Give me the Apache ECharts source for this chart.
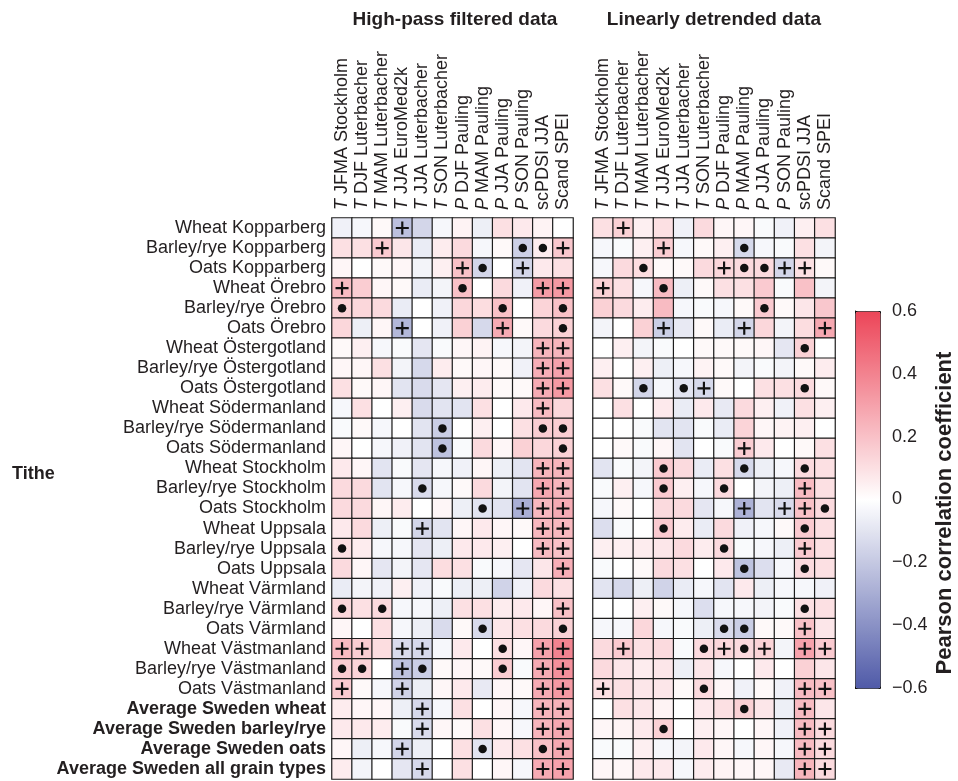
<!DOCTYPE html>
<html><head><meta charset="utf-8">
<script src="https://cdn.jsdelivr.net/npm/echarts@6/dist/echarts.min.js"></script>
<style>html,body{margin:0;padding:0;background:#fff}#c{width:958px;height:781px}</style>
</head><body><div id="c"></div><script>
const columns = ['T JFMA Stockholm','T DJF Luterbacher','T MAM Luterbacher','T JJA EuroMed2k','T JJA Luterbacher','T SON Luterbacher','P DJF Pauling','P MAM Pauling','P JJA Pauling','P SON Pauling','scPDSI JJA','Scand SPEI'];
const rows = ['Wheat Kopparberg','Barley/rye Kopparberg','Oats Kopparberg','Wheat Örebro','Barley/rye Örebro','Oats Örebro','Wheat Östergotland','Barley/rye Östergotland','Oats Östergotland','Wheat Södermanland','Barley/rye Södermanland','Oats Södermanland','Wheat Stockholm','Barley/rye Stockholm','Oats Stockholm','Wheat Uppsala','Barley/rye Uppsala','Oats Uppsala','Wheat Värmland','Barley/rye Värmland','Oats Värmland','Wheat Västmanland','Barley/rye Västmanland','Oats Västmanland','Average Sweden wheat','Average Sweden barley/rye','Average Sweden oats','Average Sweden all grain types'];
const boldRows = ['Average Sweden wheat','Average Sweden barley/rye','Average Sweden oats','Average Sweden all grain types'];
const colorTicks = [-0.6,-0.4,-0.2,0,0.2,0.4,0.6];

// High-pass filtered data: correlation values (rows x columns)
const hpVals = [
[-0.05,-0.03,0.02,-0.23,-0.15,-0.03,0.04,-0.06,0.10,0.07,0.04,0.00],
[0.10,0.10,0.17,0.08,-0.07,0.06,0.12,-0.03,0.02,-0.17,0.06,0.18],
[0.03,0.00,0.02,0.03,-0.04,0.05,0.20,-0.15,0.00,-0.15,0.07,0.10],
[0.22,0.16,0.03,0.02,-0.07,-0.04,0.20,0.00,0.12,-0.05,0.32,0.33],
[0.15,0.13,0.12,-0.07,0.00,-0.05,0.13,0.11,0.20,0.00,0.14,0.20],
[0.13,-0.06,0.03,-0.26,0.00,-0.05,0.15,-0.14,0.27,0.02,0.12,0.15],
[0.02,0.05,-0.03,-0.02,-0.09,-0.02,0.03,0.04,-0.03,-0.04,0.24,0.24],
[0.03,0.03,0.10,-0.04,-0.14,0.06,0.02,0.03,0.02,-0.05,0.26,0.30],
[0.10,0.02,0.03,-0.10,-0.13,-0.09,0.05,0.06,0.02,0.02,0.27,0.33],
[-0.03,0.10,0.00,0.05,-0.13,-0.10,-0.10,0.10,0.00,0.07,0.22,0.13],
[-0.02,0.02,-0.03,0.00,-0.10,-0.18,0.00,0.05,0.00,0.10,0.16,0.16],
[0.03,0.00,-0.03,-0.05,-0.10,-0.22,-0.02,0.12,0.03,0.15,0.13,0.15],
[0.07,0.03,-0.10,-0.02,-0.09,-0.03,-0.05,0.03,-0.06,-0.10,0.24,0.24],
[0.12,0.12,-0.10,-0.03,-0.13,-0.03,0.02,0.12,-0.04,-0.10,0.28,0.24],
[0.12,0.12,0.03,0.06,0.00,0.03,-0.06,-0.10,-0.10,-0.29,0.23,0.27],
[0.07,0.12,-0.06,-0.02,-0.15,-0.10,0.03,0.07,0.03,0.02,0.23,0.23],
[0.10,0.06,-0.03,-0.03,-0.09,-0.06,0.07,0.07,0.05,0.00,0.22,0.20],
[0.12,0.03,-0.09,-0.04,-0.09,0.11,0.10,-0.02,-0.03,-0.09,0.08,0.26],
[-0.07,-0.04,-0.05,0.05,-0.05,-0.02,-0.06,-0.06,-0.16,-0.05,0.12,0.10],
[0.13,0.10,0.12,-0.03,-0.03,-0.06,0.10,0.10,0.06,0.07,0.03,0.20],
[0.03,0.00,0.10,-0.03,-0.06,-0.13,0.02,-0.13,0.08,0.10,0.12,0.15],
[0.22,0.16,0.11,-0.13,-0.14,-0.03,0.07,0.00,0.10,0.03,0.30,0.40],
[0.16,0.14,0.00,-0.22,-0.18,0.02,0.03,0.02,0.16,-0.02,0.27,0.36],
[0.17,0.02,-0.03,-0.16,-0.06,0.03,0.07,-0.08,0.03,0.02,0.27,0.33],
[0.06,0.03,0.03,-0.06,-0.14,-0.03,0.10,0.00,0.03,-0.03,0.24,0.25],
[0.07,0.07,0.06,-0.02,-0.13,0.03,0.02,0.10,0.03,-0.03,0.24,0.28],
[0.03,-0.06,-0.03,-0.15,-0.06,0.00,0.10,-0.10,0.07,0.10,0.20,0.28],
[0.06,-0.04,0.00,-0.09,-0.14,0.00,0.10,0.00,0.03,-0.03,0.27,0.30]
];
// significance marks: '+' and 'o' (dot), '.' none
const hpMarks = [
"...+........","..+......oo+","......+o.+..","+.....o...++","o.......o..o","...+....+..o",
"..........++","..........++","..........++","..........+.",".....o....oo",".....o.....o",
"..........++","....o.....++",".......o.+++","....+.....++","o.........++","...........+",
"............","o.o........+",".......o...o","++.++...o.++","oo.+o...o.++","+..+......++",
"....+.....++","....+.....++","...+...o..o+","....+.....++"
];
// Linearly detrended data
const ldVals = [
[0.10,0.15,0.05,0.10,-0.05,0.12,0.03,0.03,-0.02,-0.05,0.05,0.10],
[-0.03,-0.02,0.05,0.16,-0.03,0.02,0.05,-0.14,-0.03,-0.02,0.10,-0.04],
[-0.03,0.12,0.11,0.02,0.02,0.12,0.13,0.12,0.12,-0.15,0.10,0.02],
[0.15,0.10,-0.03,0.22,-0.06,0.02,0.10,0.10,0.17,-0.02,0.20,-0.04],
[0.15,0.12,0.06,0.22,-0.03,-0.02,-0.03,0.02,0.17,0.02,0.08,0.18],
[-0.04,0.00,0.15,-0.18,-0.08,0.02,-0.07,-0.15,0.13,-0.04,0.11,0.28],
[0.00,0.05,-0.04,-0.02,0.00,0.02,0.02,0.02,0.03,-0.09,0.15,0.00],
[0.05,0.00,0.05,-0.06,-0.03,0.04,0.02,-0.04,-0.02,-0.04,0.02,0.06],
[0.10,0.02,-0.15,-0.03,-0.10,-0.14,0.02,0.00,0.10,0.10,0.12,0.02],
[0.00,0.10,0.00,0.07,-0.07,0.07,-0.08,0.12,0.05,-0.05,0.10,0.05],
[0.00,0.00,-0.02,-0.10,-0.10,-0.02,-0.07,0.14,0.03,0.04,0.05,0.00],
[0.00,0.02,-0.02,0.03,-0.10,0.00,-0.02,0.16,0.07,0.00,0.02,0.10],
[-0.10,-0.02,-0.04,0.17,0.12,-0.07,0.10,-0.14,-0.06,-0.03,0.12,0.10],
[-0.02,0.05,-0.03,0.17,0.05,-0.03,0.12,0.00,-0.04,-0.06,0.22,0.10],
[-0.03,0.02,0.00,0.12,0.12,-0.09,-0.03,-0.28,-0.10,-0.13,0.20,0.12],
[-0.12,-0.02,0.00,0.17,0.06,-0.07,0.12,-0.05,-0.03,0.02,0.17,0.10],
[0.05,0.05,0.06,0.08,0.12,0.06,0.12,-0.02,-0.03,-0.06,0.17,0.10],
[-0.02,0.00,0.02,0.12,0.10,0.00,0.07,-0.22,-0.12,-0.03,0.12,0.10],
[-0.10,-0.14,-0.06,-0.16,-0.07,-0.03,-0.10,0.07,-0.06,-0.03,-0.03,-0.05],
[0.00,0.00,0.05,0.02,-0.03,-0.12,-0.03,-0.03,-0.04,-0.02,0.10,0.10],
[-0.03,-0.03,0.13,-0.03,-0.02,-0.06,-0.13,-0.18,0.02,0.02,0.20,0.08],
[0.12,0.17,0.10,0.12,-0.02,0.12,0.13,0.12,0.14,-0.04,0.30,0.17],
[0.12,0.08,0.06,0.08,-0.06,0.08,-0.03,0.00,0.07,0.00,0.15,0.08],
[0.10,0.10,0.08,0.08,0.02,0.12,0.03,-0.05,0.02,-0.05,0.22,0.20],
[0.00,0.10,0.08,0.04,0.00,0.07,0.10,0.15,0.08,-0.06,0.22,0.08],
[0.03,0.04,0.07,0.15,0.00,0.05,0.03,0.00,0.03,-0.05,0.22,0.12],
[-0.02,-0.02,0.05,-0.03,-0.04,0.07,0.03,-0.03,0.03,-0.03,0.22,0.12],
[0.03,0.03,0.07,0.07,-0.03,0.06,0.04,0.03,0.03,-0.08,0.24,0.12]
];
const ldMarks = [
".+..........","...+...o....","..o...+oo++.","+..o........","........o...","...+...+...+",
"..........o.","............","..o.o+....o.","............","............",".......+....",
"...o...o..o.","...o..o...+.",".......+.++o","...o......o.","......o...+.",".......o..o.",
"............","..........o.","......oo..+.",".+...o+o+.++","............","+....o....++",
".......o..+.","...o......++","..........++","..........++"
];

const FONT = '"Liberation Sans", Arial, Helvetica, sans-serif';
const TXT = '#231f20';
const FS = 18;
const colorRange = ['#4f5aa8', '#ffffff', '#ec4558'];
const PLUS = 'path://M-1,-6L1,-6L1,-1L6,-1L6,1L1,1L1,6L-1,6L-1,1L-6,1L-6,-1L-1,-1Z';

function cells(vals){ const d=[]; vals.forEach((r,y)=>r.forEach((v,x)=>d.push([x,y,v]))); return d; }
function marks(m,ch){ const d=[]; m.forEach((s,y)=>{ for(let x=0;x<s.length;x++) if(s[x]===ch) d.push([x,y]); }); return d; }

const chart = echarts.init(document.getElementById('c'));
const colLabel = {
  rotate: -90, interval: 0, fontSize: FS, margin: 8, color: TXT, fontFamily: FONT,
  formatter: v => { const m = v.match(/^([TP]) (.*)$/); return m ? '{i|'+m[1]+'}{n| '+m[2]+'}' : '{n|'+v+'}'; },
  rich: { i: {fontStyle:'italic', fontSize: FS, fontFamily: FONT, color: TXT}, n: {fontSize: FS, fontFamily: FONT, color: TXT} }
};
const hide = {show:false};
function catX(g){ return {gridIndex:g, type:'category', data:columns, position:'top', axisLine:hide, axisTick:hide, splitLine:hide, axisLabel:colLabel}; }
function catY(g, showLabel){ return {gridIndex:g, type:'category', data:rows, inverse:true, axisLine:hide, axisTick:hide, splitLine:hide,
  axisLabel: showLabel ? {interval:0, fontSize:FS, margin:6, color:TXT, fontFamily:FONT,
    formatter: v => boldRow(v) ? '{b|'+v+'}' : v,
    rich:{b:{fontWeight:'bold', fontSize:FS, fontFamily:FONT, color:TXT}}} : hide}; }
function boldRow(v){ return boldRows.indexOf(v) >= 0; }

function heat(g, vals){ return {type:'heatmap', xAxisIndex:g, yAxisIndex:g, data:cells(vals),
  itemStyle:{borderColor:'#1d1d1d', borderWidth:1.2}, emphasis:{disabled:true}, silent:true}; }
function sc(g, m, ch){ return {type:'scatter', xAxisIndex:g, yAxisIndex:g, data:marks(m,ch), z:5, silent:true,
  symbol: ch==='+' ? PLUS : 'circle', symbolSize: ch==='+' ? 13 : 8.5, itemStyle:{color:'#111', opacity:1}}; }

chart.setOption({
  animation:false,
  backgroundColor:'#fff',
  grid:[
    {left:332, top:218, width:241, height:561},
    {left:593, top:218, width:242, height:561},
    {left:855, top:311, width:25, height:377}
  ],
  xAxis:[catX(0), catX(1), {gridIndex:2, type:'value', show:false}],
  yAxis:[catY(0,true), catY(1,false),
    {gridIndex:2, type:'value', min:-0.6, max:0.6, interval:0.2, position:'right',
     axisLine:{show:true, lineStyle:{color:'#111', width:1}}, axisTick:{show:true, length:5, lineStyle:{color:'#111'}},
     splitLine:hide,
     axisLabel:{fontSize:FS, margin:12, color:TXT, fontFamily:FONT,
       formatter: v => { const r = Math.round(v*10)/10; return r===0 ? '0' : (r<0 ? '\u2212' : '') + Math.abs(r).toFixed(1); }}}],
  visualMap:{type:'continuous', min:-0.6, max:0.6, dimension:2, seriesIndex:[0,1], inRange:{color:colorRange},
    show:true, calculable:false, left:855, top:311, itemWidth:25, itemHeight:377, padding:0,
    borderColor:'#111', borderWidth:1, text:null, hoverLink:false},
  series:[
    heat(0, hpVals), heat(1, ldVals),
    sc(0, hpMarks, '+'), sc(0, hpMarks, 'o'), sc(1, ldMarks, '+'), sc(1, ldMarks, 'o'),
    {type:'scatter', xAxisIndex:2, yAxisIndex:2, data:[]}
  ],
  graphic:[
    {type:'text', x:455, y:20, style:{text:'High-pass filtered data', font:'bold 19px '+FONT, fill:TXT, align:'center', verticalAlign:'middle'}},
    {type:'text', x:714, y:20, style:{text:'Linearly detrended data', font:'bold 19px '+FONT, fill:TXT, align:'center', verticalAlign:'middle'}},
    {type:'text', x:12, y:474, style:{text:'Tithe', font:'bold 18px '+FONT, fill:TXT, align:'left', verticalAlign:'middle'}},
    {type:'text', x:945, y:513, rotation:Math.PI/2, style:{text:'Pearson correlation coefficient', font:'bold 22px '+FONT, fill:TXT, align:'center', verticalAlign:'middle'}}
  ]
});
</script></body></html>
